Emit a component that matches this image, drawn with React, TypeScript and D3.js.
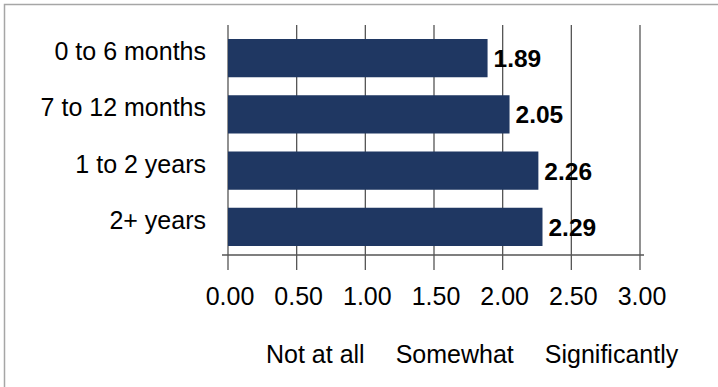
import * as d3 from "d3";

const categories = ["0 to 6 months", "7 to 12 months", "1 to 2 years", "2+ years"];
const values = [1.89, 2.05, 2.26, 2.29];
const tickValues = [0, 0.5, 1, 1.5, 2, 2.5, 3];
const scaleWords = ["Not at all", "Somewhat", "Significantly"];

const width = 718;
const height = 387;
const font = "'Liberation Sans', Arial, sans-serif";

export default function App() {
  const x = d3.scaleLinear([0, 3], [228, 640]);
  const y = d3
    .scaleBand(categories, [30, 255])
    .paddingInner(0.32)
    .paddingOuter(0.16);
  const fmt = d3.format(".2f");
  const gridTop = 25;
  const axisY = y.range()[1];
  const tickBottom = axisY + 15;

  return (
    <svg
      width={width}
      height={height}
      style={{ position: "fixed", left: 0, top: 0, background: "#fff" }}
      fontFamily={font}
    >
      <rect x={4.5} y={4.5} width={800} height={500} fill="none" stroke="#a6a6a6" strokeWidth={1.5} />

      {/* grid lines, running down past the axis as tick marks */}
      <g stroke="#555" strokeWidth={1.3}>
        {tickValues.map((t) => (
          <line key={t} x1={x(t)} x2={x(t)} y1={gridTop} y2={tickBottom} />
        ))}
      </g>
      <line x1={x(0) - 6} x2={x(3) + 4} y1={axisY} y2={axisY} stroke="#555" strokeWidth={1.5} />

      <g fill="#1f3762">
        {values.map((v, i) => (
          <rect
            key={categories[i]}
            x={x(0)}
            y={y(categories[i])}
            width={x(v) - x(0)}
            height={y.bandwidth()}
          />
        ))}
      </g>

      <g fontSize={24.5} fontWeight="bold" fill="#000">
        {values.map((v, i) => (
          <text key={i} x={x(v) + 6} y={y(categories[i])! + y.bandwidth() / 2 + 9}>
            {fmt(v)}
          </text>
        ))}
      </g>

      <g fontSize={25} fill="#000" textAnchor="end">
        {categories.map((c) => (
          <text key={c} x={206} y={y(c)! + y.bandwidth() / 2 + 2}>
            {c}
          </text>
        ))}
      </g>

      <g fontSize={25} fill="#000" textAnchor="middle">
        {tickValues.map((t) => (
          <text key={t} x={x(t) + 2} y={305}>
            {fmt(t)}
          </text>
        ))}
      </g>

      <text x={266} y={363} fontSize={25} fill="#000">
        {scaleWords.map((w, i) => (
          <tspan key={w} dx={i === 0 ? 0 : 31}>
            {w}
          </tspan>
        ))}
      </text>
    </svg>
  );
}
